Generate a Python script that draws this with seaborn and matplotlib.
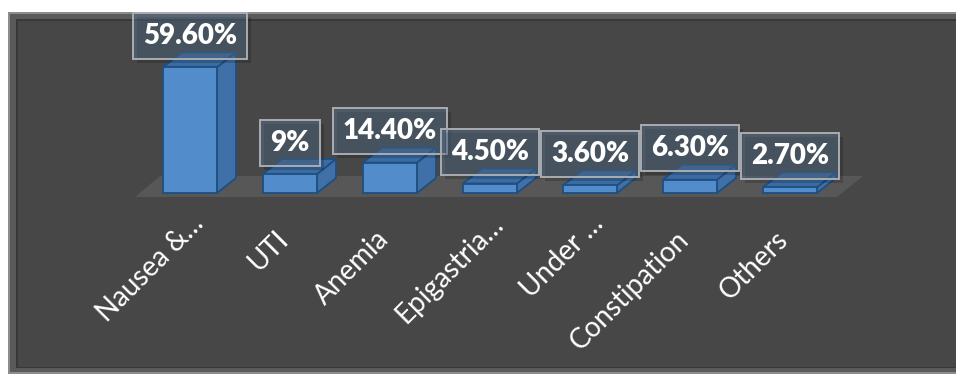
import matplotlib
matplotlib.use("Agg")
import matplotlib.pyplot as plt
import matplotlib.transforms as mtransforms
import matplotlib.patheffects as pe
from matplotlib.patches import Polygon, Rectangle
import seaborn as sns
import pandas as pd

# ---- data ----
categories = ["Nausea &…", "UTI", "Anemia", "Epigastria…", "Under …", "Constipation", "Others"]
values = [59.6, 9.0, 14.4, 4.5, 3.6, 6.3, 2.7]
value_labels = ["59.60%", "9%", "14.40%", "4.50%", "3.60%", "6.30%", "2.70%"]
truncated = [True, False, False, True, True, False, False]

W, H = 956, 378
sns.set_theme(style="white")
plt.rcParams["font.family"] = ["Lato", "DejaVu Sans"]

fig = plt.figure(figsize=(W / 100, H / 100), dpi=100)
fig.patch.set_facecolor("white")

# ---- dark panel with bevel (display pixel coords, y from top) ----
ident = mtransforms.IdentityTransform()
def prect(x0, y0, x1, y1, color, z):
    fig.patches.append(Rectangle((x0, H - y1), x1 - x0, y1 - y0, transform=ident,
                                 facecolor=color, edgecolor="none", zorder=z))
prect(8, 12, 960, 374, "#8c8c8c", 0)
prect(10, 14, 960, 372, "#5a5a5a", 0.1)
prect(16, 19, 960, 368, "#383838", 0.2)
prect(18, 21, 960, 367, "#474747", 0.3)

# ---- axes: category centres at 190 + 100 i px, value 0 at y=193 px ----
px_per_unit = 126.6 / 60.0
ax = fig.add_axes([140 / W, (H - 193) / H, 700 / W, 126.6 / H])
ax.set_zorder(5)
ax.set_facecolor("none")
df = pd.DataFrame({"cat": categories, "val": values})
sns.barplot(data=df, x="cat", y="val", width=0.54, color="#528cca", saturation=1,
            edgecolor="#1f4f80", linewidth=1.3, ax=ax, zorder=3)
ax.set_xlim(-0.5, 6.5)
ax.set_ylim(0, 60)
for s in ax.spines.values():
    s.set_visible(False)
ax.set_yticks([])
ax.set_xlabel("")
ax.set_ylabel("")

dx = 0.19
dy = 15 / px_per_unit

bars = list(ax.patches)

# floor
floor = Polygon([(-0.55, -1.9), (-0.30, 17 / px_per_unit), (6.73, 17 / px_per_unit), (6.47, -1.9)],
                closed=True, facecolor="#575757", edgecolor="none", zorder=1, clip_on=False)
ax.add_patch(floor)

for p in bars:
    x, w, h = p.get_x(), p.get_width(), p.get_height()
    side = Polygon([(x + w, 0), (x + w, h), (x + w + dx, h + dy), (x + w + dx, dy)], closed=True,
                   facecolor="#3f71a8", edgecolor="#1f4f80", linewidth=1.3, zorder=2.5, clip_on=False)
    top = Polygon([(x, h), (x + w, h), (x + w + dx, h + dy), (x + dx, h + dy)], closed=True,
                  facecolor="#3a6ca3", edgecolor="#1f4f80", linewidth=1.3, zorder=2.5, clip_on=False)
    ax.add_patch(side)
    ax.add_patch(top)
    p.set_clip_on(False)

# data labels in translucent boxes
for i, (v, lab) in enumerate(zip(values, value_labels)):
    t = ax.annotate(lab, xy=(i, v), xytext=(0, 31.5), textcoords="offset pixels",
                    ha="center", va="center", fontsize=20, fontweight="heavy", color="white",
                    zorder=6, annotation_clip=False,
                    bbox=dict(boxstyle="square,pad=0.36", facecolor=(88 / 255, 118 / 255, 148 / 255, 0.42),
                              edgecolor="#a9adb2", linewidth=1.4))
    t.get_bbox_patch().set_path_effects([pe.SimplePatchShadow(offset=(3, -3), shadow_rgbFace="black", alpha=0.18),
                                         pe.Normal()])

# category tick labels
ax.set_xticks(range(len(categories)))
ax.set_xticklabels(categories, fontsize=20, color="white")
ax.tick_params(axis="x", length=0, pad=48 * 0.72)
for lab, tr in zip(ax.get_xticklabels(), truncated):
    lab.set_rotation(45)
    lab.set_ha("right")
    lab.set_va("baseline")
    lab.set_rotation_mode("anchor")
    if tr:
        lab.set_transform(lab.get_transform() + mtransforms.ScaledTranslation(0.15, 0.16, fig.dpi_scale_trans))

fig.savefig("out.png", dpi=100, facecolor="white")
